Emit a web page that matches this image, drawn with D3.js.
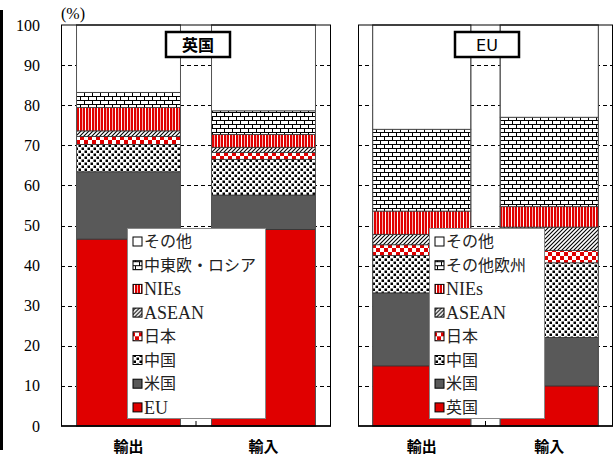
<!DOCTYPE html>
<html>
<head>
<meta charset="utf-8">
<script src="https://cdn.jsdelivr.net/npm/d3@7"></script>
<style>
body { margin: 0; background: #fff; }
svg { display: block; }
</style>
</head>
<body>
<div id="chart"></div>
<script>
const categories = ["輸出", "輸入"]
const uk_series = ["EU", "米国", "中国", "日本", "ASEAN", "NIEs", "中東欧・ロシア", "その他"]
const eu_series = ["英国", "米国", "中国", "日本", "ASEAN", "NIEs", "その他欧州", "その他"]
const uk_export = [46.6, 16.8, 6.8, 2.0, 1.4, 5.8, 3.8, 16.8]
const uk_import = [49.0, 8.6, 8.9, 1.7, 1.3, 3.2, 5.9, 21.4]
const eu_export = [15.0, 18.2, 9.3, 2.7, 2.6, 5.8, 20.4, 26.0]
const eu_import = [10.0, 12.1, 18.6, 3.1, 5.8, 5.1, 22.3, 23.0]
const y_ticks = [0, 10, 20, 30, 40, 50, 60, 70, 80, 90, 100]

const RED = "#e00000"
const fills = ["red", "gray", "dots", "check", "hatch", "stripe", "brick", "white"]

const W = 614, H = 457
const svg = d3.select("#chart").append("svg")
    .attr("width", W).attr("height", H)

// patterns
const defs = svg.append("defs")
let p = defs.append("pattern").attr("id", "p_brick").attr("patternUnits", "userSpaceOnUse")
    .attr("width", 8).attr("height", 8)
p.append("rect").attr("width", 8).attr("height", 8).attr("fill", "#fff")
p.append("path").attr("d", "M0,0.5H8M0,4.5H8M0.5,0V4.5M4.5,4.5V8")
    .attr("stroke", "#000").attr("stroke-width", 1).attr("fill", "none")

p = defs.append("pattern").attr("id", "p_stripe").attr("patternUnits", "userSpaceOnUse")
    .attr("width", 6).attr("height", 4)
p.append("rect").attr("width", 6).attr("height", 4).attr("fill", RED)
p.append("rect").attr("x", 1).attr("width", 1).attr("height", 4).attr("fill", "#fff")
p.append("rect").attr("x", 4).attr("width", 1).attr("height", 4).attr("fill", "#f8a8a8")

p = defs.append("pattern").attr("id", "p_hatch").attr("patternUnits", "userSpaceOnUse")
    .attr("width", 4).attr("height", 4)
p.append("rect").attr("width", 4).attr("height", 4).attr("fill", "#fff")
p.append("path").attr("d", "M-1,1L1,-1M0,4L4,0M3,5L5,3")
    .attr("stroke", "#000").attr("stroke-width", 1.1)

p = defs.append("pattern").attr("id", "p_check").attr("patternUnits", "userSpaceOnUse")
    .attr("width", 8).attr("height", 8)
p.append("rect").attr("width", 8).attr("height", 8).attr("fill", "#fff")
p.append("rect").attr("width", 4).attr("height", 4).attr("fill", RED)
p.append("rect").attr("x", 4).attr("y", 4).attr("width", 4).attr("height", 4).attr("fill", RED)

p = defs.append("pattern").attr("id", "p_dots").attr("patternUnits", "userSpaceOnUse")
    .attr("width", 6).attr("height", 6)
p.append("rect").attr("width", 6).attr("height", 6).attr("fill", "#fff")
p.append("rect").attr("x", 0.5).attr("y", 0.5).attr("width", 2.5).attr("height", 2.5).attr("fill", "#000")
p.append("rect").attr("x", 3.5).attr("y", 3.5).attr("width", 2.5).attr("height", 2.5).attr("fill", "#000")

function fill_of(k) {
    if (k === "red") return RED
    if (k === "gray") return "#595959"
    if (k === "white") return "#fff"
    return "url(#p_" + k + ")"
}

const y = d3.scaleLinear().domain([0, 100]).range([426, 25])

// left border artifact
svg.append("rect").attr("x", 0).attr("y", 10).attr("width", 3).attr("height", 440).attr("fill", "#000")

function draw_panel(param) {
    const g = svg.append("g")
    const x = d3.scaleBand().domain(categories)
        .range([param.x0, param.x1]).paddingInner(0.23).paddingOuter(0.115)

    // gridlines
    g.append("g").selectAll("line")
        .data(y_ticks.filter(d => d > 0 && d < 100))
        .enter().append("line")
        .attr("x1", param.x0).attr("x2", param.x1)
        .attr("y1", d => Math.round(y(d)) + 0.5).attr("y2", d => Math.round(y(d)) + 0.5)
        .attr("stroke", "#000").attr("stroke-dasharray", "4,3")

    // stacked bars
    const datasets = [param.exp, param.imp]
    categories.forEach((c, ci) => {
        let acc = 0
        const segs = datasets[ci].map((v, i) => {
            const s = {y0: acc, y1: acc + v, k: fills[i]}
            acc += v
            return s
        })
        g.append("g").selectAll("rect")
            .data(segs).enter().append("rect")
            .attr("x", x(c)).attr("width", x.bandwidth())
            .attr("y", d => y(d.y1)).attr("height", d => y(d.y0) - y(d.y1))
            .attr("fill", d => fill_of(d.k))
            .attr("stroke", "#333").attr("stroke-width", 0.8)
        g.append("rect")
            .attr("x", x(c)).attr("width", x.bandwidth())
            .attr("y", y(100)).attr("height", y(0) - y(100))
            .attr("fill", "none").attr("stroke", "#555").attr("stroke-width", 1)
    })

    // frame
    g.append("rect")
        .attr("x", param.x0 + 0.5).attr("y", y(100))
        .attr("width", param.x1 - param.x0 - 1).attr("height", y(0) - y(100))
        .attr("fill", "none").attr("stroke", "#000").attr("stroke-width", 1)
    g.append("line")
        .attr("x1", param.x0).attr("x2", param.x1)
        .attr("y1", y(0)).attr("y2", y(0))
        .attr("stroke", "#000").attr("stroke-width", 1.5)
    const mid = (x("輸出") + x.bandwidth() + x("輸入")) / 2
    g.append("line").attr("x1", mid).attr("x2", mid)
        .attr("y1", y(0)).attr("y2", y(0) - 5).attr("stroke", "#000")

    // category labels
    g.append("g").selectAll("text")
        .data(categories).enter().append("text")
        .attr("x", d => x(d) + x.bandwidth() / 2).attr("y", 452)
        .attr("text-anchor", "middle")
        .style("font-family", "'Noto Sans CJK JP'").style("font-size", "15px").style("font-weight", "bold")
        .text(d => d)

    // title box
    g.append("rect")
        .attr("x", param.title_x).attr("y", 32).attr("width", 64).attr("height", 25)
        .attr("fill", "#fff").attr("stroke", "#000").attr("stroke-width", 2.5)
    g.append("text")
        .attr("x", param.title_x + 32).attr("y", 50.5).attr("text-anchor", "middle")
        .style("font-family", param.title_font).style("font-size", "16px")
        .style("font-weight", param.title_weight)
        .text(param.title)

    // legend
    const lg = g.append("g")
    lg.append("rect")
        .attr("x", param.lx + 0.5).attr("y", 228.5).attr("width", param.lw).attr("height", 190)
        .attr("fill", "#fff").attr("stroke", "#888")
    const items = param.series.map((s, i) => ({s: s, k: fills[i]})).reverse()
    const row = lg.selectAll(".item").data(items).enter().append("g")
        .attr("transform", (d, i) => "translate(" + param.lx + "," + (241.5 + i * 23.7) + ")")
    row.append("rect")
        .attr("x", 6).attr("y", -4.5).attr("width", 9).attr("height", 9)
        .attr("fill", d => fill_of(d.k)).attr("stroke", "#000").attr("stroke-width", 1)
    row.append("text")
        .attr("x", 17).attr("y", d => /^[A-Za-z]+$/.test(d.s) ? 6.5 : 5.5)
        .style("font-family", "'Liberation Serif', 'Noto Sans CJK JP'")
        .style("font-size", d => /^[A-Za-z]+$/.test(d.s) ? "18px" : "16px")
        .attr("fill", "#222")
        .text(d => d.s)
}

draw_panel({x0: 61, x1: 331, exp: uk_export, imp: uk_import, series: uk_series,
    title: "英国", title_x: 166, title_font: "'Noto Sans CJK JP'", title_weight: "bold",
    lx: 127, lw: 138})
draw_panel({x0: 358, x1: 613, exp: eu_export, imp: eu_import, series: eu_series,
    title: "EU", title_x: 455, title_font: "'DejaVu Sans'", title_weight: "normal",
    lx: 429, lw: 115})

// y axis labels
svg.append("g").selectAll("text")
    .data(y_ticks).enter().append("text")
    .attr("x", 40).attr("y", d => y(d) + 5.5)
    .attr("text-anchor", "end")
    .style("font-family", "'Liberation Serif'").style("font-size", "16px")
    .text(d => d)
svg.append("text").attr("x", 61).attr("y", 19)
    .style("font-family", "'Liberation Serif'").style("font-size", "16px")
    .text("(%)")
</script>
</body>
</html>
